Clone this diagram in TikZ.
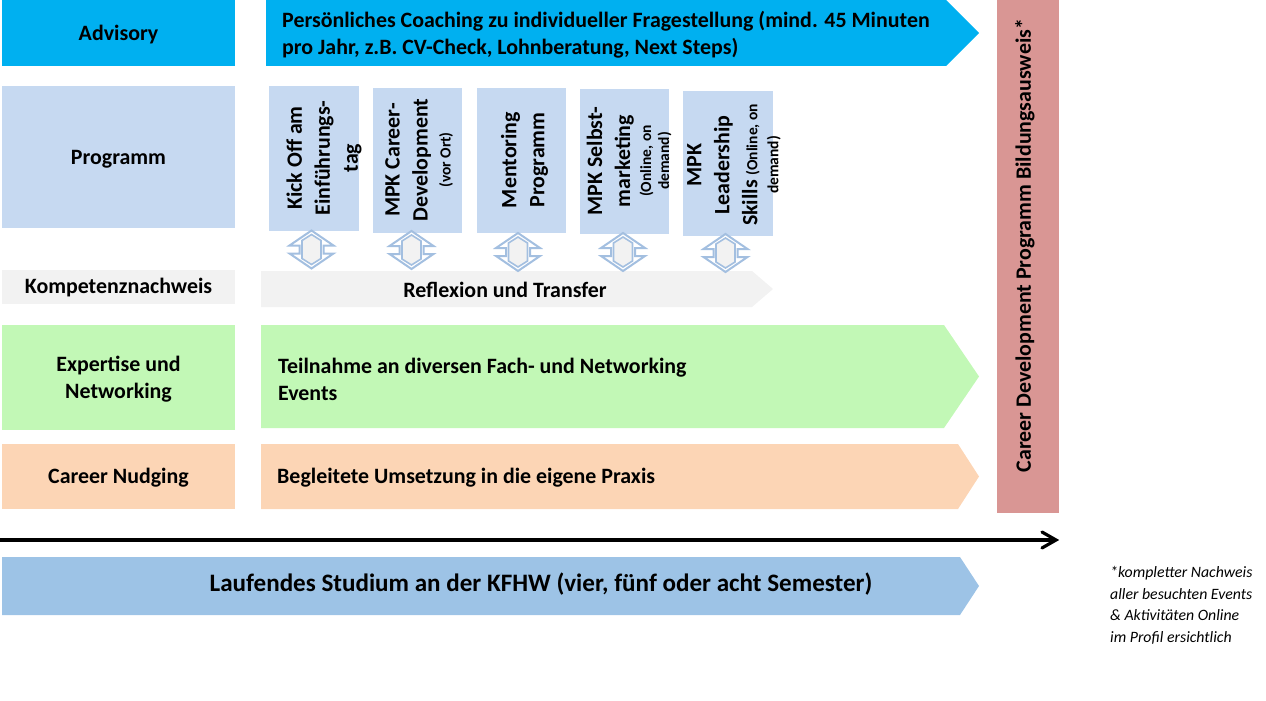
\documentclass[tikz,border=0pt]{standalone}
\usepackage{fontspec}
\setmainfont{Carlito}
\definecolor{cAdv}{HTML}{00B0F0}
\definecolor{cProg}{HTML}{C6D9F1}
\definecolor{cGrey}{HTML}{F2F2F2}
\definecolor{cGreen}{HTML}{C2F8B6}
\definecolor{cOrange}{HTML}{FCD5B5}
\definecolor{cBlue}{HTML}{9DC3E6}
\definecolor{cRed}{HTML}{D99694}
\definecolor{cEdge}{HTML}{A3BFE0}
\tikzset{
  lbl/.style={font=\fontsize{21.9}{27}\selectfont\bfseries,text=black,align=center,inner sep=0pt},
  body/.style={font=\fontsize{21.9}{27}\selectfont\bfseries,text=black,align=left,anchor=west,inner sep=0pt},
  vert/.style={rotate=90,font=\fontsize{21.9}{28}\selectfont\bfseries,text=black,align=center,inner sep=0pt},
  updownout/.style={draw=cEdge,fill=white,line width=2pt,line join=miter},
  updownin/.style={draw=cEdge,fill=cGrey,line width=1.6pt,line join=miter}
}
\newcommand{\boxrect}[5]{\fill[#1] (#2,#3) rectangle (#4,#5);}
\newcommand{\pent}[6]{\fill[#1] (#2,#3) -- (#4,#3) -- (#5,{(#3+#6)/2}) -- (#4,#6) -- (#2,#6) -- cycle;}
\newcommand{\smalltxt}[1]{{\fontsize{15.5}{16}\selectfont #1}}
\newcommand{\dblarrow}[2]{%
  \begin{scope}[shift={(#1,#2)}]
    \draw[updownout] (0,-19) -- (22,-4) -- (12,-4) -- (12,4) -- (22,4) -- (0,19) -- (-22,4) -- (-12,4) -- (-12,-4) -- (-22,-4) -- cycle;
    \draw[updownin] (0,-15) -- (9.5,-9) -- (9.5,9) -- (0,15) -- (-9.5,9) -- (-9.5,-9) -- cycle;
  \end{scope}}
\begin{document}
\begin{tikzpicture}[x=1pt,y=-1pt]
\useasboundingbox (0,0) rectangle (1266,701);
% left column
\boxrect{cAdv}{2}{0}{235}{66}
\boxrect{cProg}{2}{86}{235}{228}
\boxrect{cGrey}{2}{270}{235}{304}
\boxrect{cGreen}{2}{325}{235}{430}
\boxrect{cOrange}{2}{444}{235}{509}
\node[lbl] (advisory) at (118.5,35) {Advisory};
\node[lbl] (programm) at (118.5,159) {Programm};
\node[lbl] (komp) at (118.5,288) {Kompetenznachweis};
\node[lbl] (expertise) at (118.5,379) {Expertise und\\Networking};
\node[lbl] (nudging) at (118.5,478) {Career Nudging};
% arrows
\pent{cAdv}{266}{0}{946}{979}{66}
\pent{cGrey}{261}{271}{752}{773}{307}
\pent{cGreen}{261}{325}{944}{979}{428}
\pent{cOrange}{261}{444}{958}{979}{509}
\pent{cBlue}{2}{557}{960}{979}{615}
\node[body] (coach) at (282,34.5) {Persönliches Coaching zu individueller Fragestellung (mind. 45 Minuten\\pro Jahr, z.B. CV-Check, Lohnberatung, Next Steps)};
\node[lbl] (reflex) at (505,290) {Reflexion und Transfer};
\node[body] (teil) at (278,379) {Teilnahme an diversen Fach- und Networking\\Events};
\node[body] (beg) at (277,478) {Begleitete Umsetzung in die eigene Praxis};
\node[lbl,font=\fontsize{25.1}{30}\selectfont\bfseries] (studium) at (541,584) {Laufendes Studium an der KFHW (vier, fünf oder acht Semester)};
% programme boxes
\boxrect{cProg}{269}{86}{359}{231}
\boxrect{cProg}{373}{88}{462}{233}
\boxrect{cProg}{477}{88}{566}{233}
\boxrect{cProg}{580}{89}{669}{234}
\boxrect{cProg}{683}{91}{773}{236}
\node[vert] (p1) at (324,158) {Kick Off am\\Einführungs-\\tag};
\node[vert] (p2) at (419,160) {MPK Career-\\Development\\[-5pt]\smalltxt{(vor Ort)}};
\node[vert] (p3) at (524.5,160) {Mentoring\\Programm};
\node[vert] (p4) at (629,161) {MPK Selbst-\\marketing\\[-7pt]\smalltxt{(Online, on}\\[-10pt]\smalltxt{demand)}};
\node[vert] (p5) at (734,165) {MPK\\Leadership\\Skills \smalltxt{(Online, on}\\[-7pt]\smalltxt{demand)}};
\dblarrow{311.5}{249.5}
\dblarrow{411.5}{250}
\dblarrow{518}{252}
\dblarrow{623}{252}
\dblarrow{725.5}{253}
% right bar
\boxrect{cRed}{997}{0}{1059}{513}
\node[vert] (cdp) at (1025,245.5) {Career Development Programm Bildungsausweis*};
% timeline
\coordinate (tl) at (0,540);
\coordinate (tr) at (1056,540);
\draw[line width=3.2pt,line cap=butt] (tl) -- (tr);
\draw[line width=3.2pt,line cap=round,line join=miter] (1042,532) -- (tr) -- (1042,548);
% note
\node[anchor=north west,inner sep=0pt,align=left,font=\fontsize{15.8}{21.5}\selectfont\itshape] (note) at (1110,566.5) {*kompletter Nachweis\\aller besuchten Events\\\& Aktivitäten Online\\im Profil ersichtlich};
\end{tikzpicture}
\end{document}
